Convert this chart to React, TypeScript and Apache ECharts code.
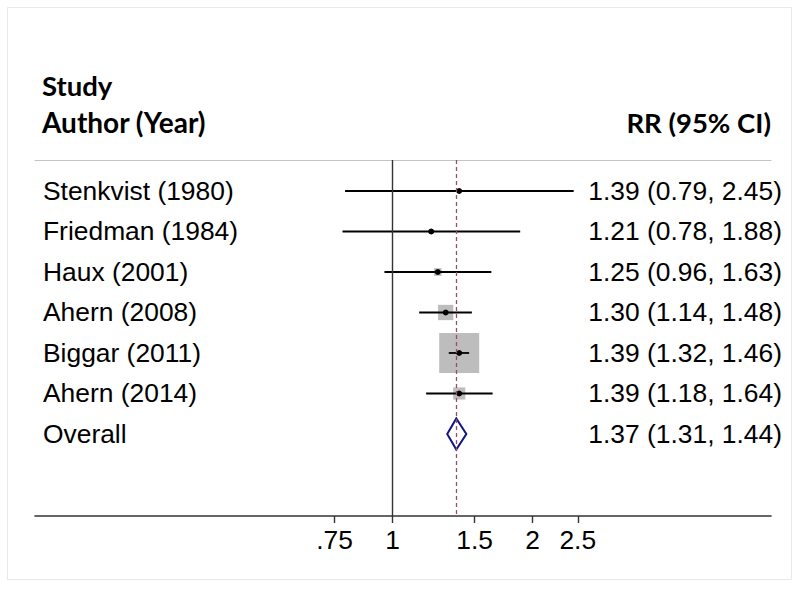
import React, { useEffect, useRef } from "react";
import * as echarts from "echarts";

const studies = ["Stenkvist (1980)", "Friedman (1984)", "Haux (2001)", "Ahern (2008)", "Biggar (2011)", "Ahern (2014)"];
const estimates = [1.39, 1.21, 1.25, 1.3, 1.39, 1.39];
const lowers = [0.79, 0.78, 0.96, 1.14, 1.32, 1.18];
const uppers = [2.45, 1.88, 1.63, 1.48, 1.46, 1.64];
const weights = [0.6, 1.0, 2.8, 11.3, 77.2, 7.1];
const overallLabel = "Overall";
const overall = { est: 1.37, lo: 1.31, hi: 1.44 };
const tickValues = [0.75, 1, 1.5, 2, 2.5];
const tickLabels = [".75", "1", "1.5", "2", "2.5"];
const xMin = 0.1702;
const xMax = 6.507;

const bodyFont = "Liberation Sans";
const headFont = "Lato";
const bodySize = 26.4;

export default function App() {
  const ref = useRef<HTMLDivElement>(null);
  useEffect(() => {
    if (!ref.current) return;
    const chart = echarts.init(ref.current, null, { renderer: "svg" });
    const rowNames = [...studies, overallLabel];
    const fmt = (v: number) => v.toFixed(2);
    const rrTexts = [
      ...studies.map((_, i) => `${fmt(estimates[i])} (${fmt(lowers[i])}, ${fmt(uppers[i])})`),
      `${fmt(overall.est)} (${fmt(overall.lo)}, ${fmt(overall.hi)})`,
    ];
    const rowIdx = rowNames.map((_, i) => i);
    const maxW = Math.max(...weights);
    const studyData = studies.map((_, i) => [i, estimates[i], lowers[i], uppers[i], weights[i]]);
    const yMin = -0.765;
    const yMax = 8.025;

    const yAxisBase = {
      type: "value",
      min: yMin,
      max: yMax,
      inverse: true,
      axisLine: { show: false },
      axisTick: { show: false },
      splitLine: { show: false },
    };

    chart.setOption({
      animation: false,
      backgroundColor: "#ffffff",
      grid: { left: 35, right: 29, top: 160, bottom: 73, containLabel: false, outerBoundsMode: "none" },
      xAxis: [
        {
          type: "log",
          min: xMin,
          max: xMax,
          axisLine: { show: true, onZero: false, lineStyle: { color: "#333333", width: 1.6 } },
          axisTick: { show: true, length: 7, lineStyle: { color: "#333333", width: 1.4 }, customValues: tickValues },
          axisLabel: {
            customValues: tickValues,
            formatter: (v: number) => {
              const k = tickValues.findIndex((t) => Math.abs(t - v) < 1e-6);
              return k >= 0 ? tickLabels[k] : "";
            },
            color: "#000000",
            fontSize: bodySize,
            fontFamily: bodyFont,
            margin: 11,
          },
          splitLine: { show: false },
        },
        {
          type: "log",
          position: "top",
          min: xMin,
          max: xMax,
          axisLine: { show: true, onZero: false, lineStyle: { color: "#c4c4c4", width: 1.2 } },
          axisTick: { show: false },
          axisLabel: { show: false },
          splitLine: { show: false },
        },
      ],
      yAxis: [
        {
          ...yAxisBase,
          position: "left",
          axisLabel: {
            inside: true,
            margin: 8,
            customValues: rowIdx,
            formatter: (v: number) => rowNames[Math.round(v)] ?? "",
            color: "#000000",
            fontSize: bodySize,
            fontFamily: bodyFont,
            align: "left",
          },
        },
        {
          ...yAxisBase,
          position: "right",
          axisLabel: {
            margin: 11,
            customValues: rowIdx,
            formatter: (v: number) => rrTexts[Math.round(v)] ?? "",
            color: "#000000",
            fontSize: bodySize,
            fontFamily: bodyFont,
            align: "right",
          },
        },
      ],
      graphic: [
        {
          type: "rect",
          shape: { x: 7.5, y: 7.5, width: 784, height: 572 },
          style: { fill: "none", stroke: "#e8e8e8", lineWidth: 1 },
          silent: true,
        },
        {
          type: "text",
          x: 42,
          y: 85,
          style: { text: "Study", fontFamily: headFont, fontWeight: "bold", fontSize: 27.5, fill: "#000", align: "left", verticalAlign: "middle" },
        },
        {
          type: "text",
          x: 42,
          y: 122,
          style: { text: "Author (Year)", fontFamily: headFont, fontWeight: "bold", fontSize: 28, fill: "#000", align: "left", verticalAlign: "middle" },
        },
        {
          type: "text",
          x: 771,
          y: 122,
          style: { text: "RR (95% CI)", fontFamily: headFont, fontWeight: "bold", fontSize: 27.5, fill: "#000", align: "right", verticalAlign: "middle" },
        },
      ],
      series: [
        {
          type: "line",
          data: [],
          markLine: {
            silent: true,
            symbol: "none",
            label: { show: false },
            data: [
              { xAxis: 1, lineStyle: { color: "#333333", width: 1.4, type: "solid" } },
              { xAxis: overall.est, lineStyle: { color: "#9b4f5a", width: 1.3, type: [4, 3] } },
            ],
          },
          z: 1,
        },
        {
          type: "custom",
          z: 3,
          data: studyData,
          encode: { x: [1, 2, 3], y: 0 },
          renderItem: (_params: any, api: any) => {
            const row = api.value(0);
            const est = api.value(1);
            const lo = api.value(2);
            const hi = api.value(3);
            const w = api.value(4);
            const pE = api.coord([est, row]);
            const pL = api.coord([lo, row]);
            const pH = api.coord([hi, row]);
            const side = 40 * Math.sqrt(w / maxW);
            return {
              type: "group",
              children: [
                {
                  type: "rect",
                  shape: { x: pE[0] - side / 2, y: pE[1] - side / 2, width: side, height: side },
                  style: { fill: "#bdbdbd" },
                },
                {
                  type: "line",
                  shape: { x1: pL[0], y1: pL[1], x2: pH[0], y2: pH[1] },
                  style: { stroke: "#000000", lineWidth: 1.8 },
                },
                {
                  type: "circle",
                  shape: { cx: pE[0], cy: pE[1], r: 3 },
                  style: { fill: "#000000" },
                },
              ],
            };
          },
        },
        {
          type: "custom",
          z: 4,
          data: [[studies.length, overall.est, overall.lo, overall.hi]],
          encode: { x: [1, 2, 3], y: 0 },
          renderItem: (_params: any, api: any) => {
            const row = api.value(0);
            const pE = api.coord([api.value(1), row]);
            const pL = api.coord([api.value(2), row]);
            const pH = api.coord([api.value(3), row]);
            const h = 15.5;
            return {
              type: "polygon",
              shape: {
                points: [
                  [pL[0], pL[1]],
                  [pE[0], pE[1] - h],
                  [pH[0], pH[1]],
                  [pE[0], pE[1] + h],
                ],
              },
              style: { fill: "none", stroke: "#141480", lineWidth: 2 },
            };
          },
        },
      ],
    });
    return () => chart.dispose();
  }, []);
  return <div ref={ref} style={{ position: "absolute", left: 0, top: 0, width: 800, height: 589 }} />;
}
